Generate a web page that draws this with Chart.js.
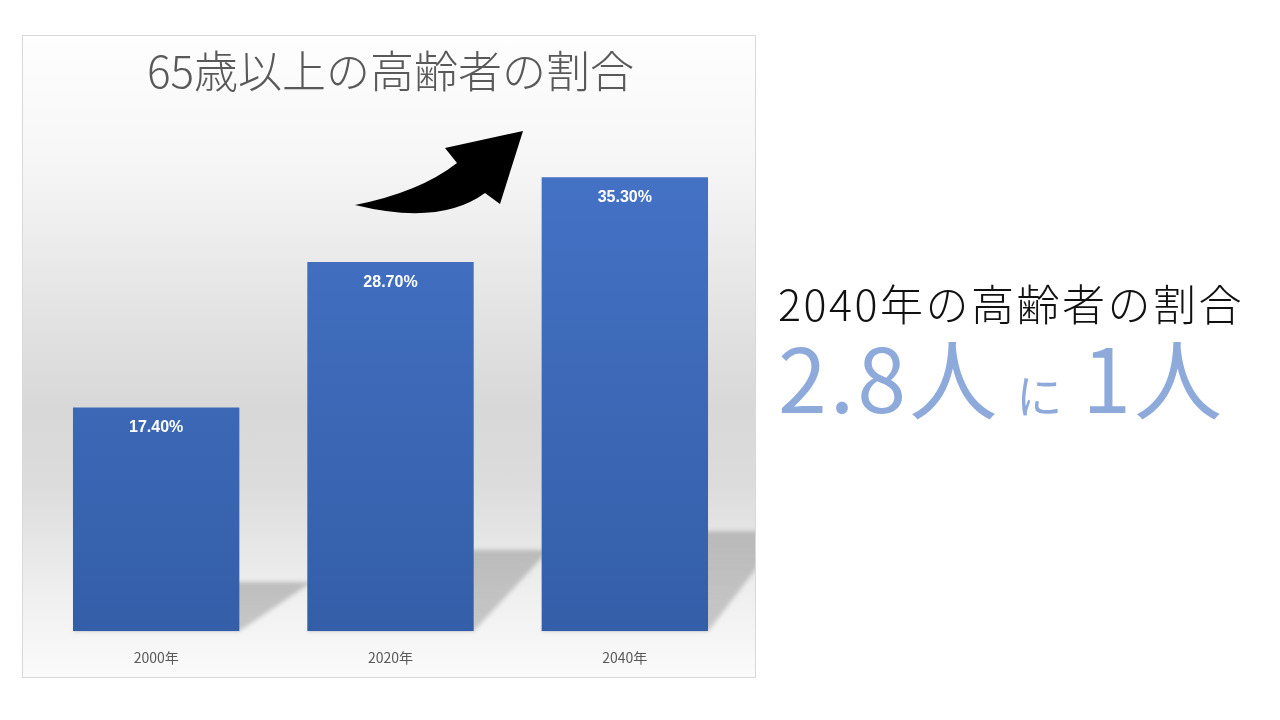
<!DOCTYPE html>
<html>
<head>
<meta charset="utf-8">
<script src="https://cdn.jsdelivr.net/npm/chart.js@4.4.1/dist/chart.umd.min.js"></script>
<style>
  body { margin: 0; width: 1280px; height: 720px; background: #fff; position: relative; overflow: hidden; font-family: "Noto Sans CJK JP", sans-serif; }
  #panel {
    position: absolute; left: 22px; top: 35px; width: 732px; height: 641px;
    border: 1px solid #d9d9d9;
    background: linear-gradient(to bottom, #fefefe 0%, #f6f6f6 20%, #e4e4e4 42%, #d8d8d8 58%, #dcdcdc 70%, #eeeeee 86%, #fbfbfb 100%);
  }
  #arrow { position: absolute; left: 0; top: 0; }
  .side1 { position: absolute; left: 778px; top: 271px; font-size: 43px; color: #111; font-weight: 300; letter-spacing: 2.5px; white-space: nowrap; }
  .side2 { position: absolute; left: 778px; top: 311px; color: #8eaadb; white-space: nowrap; font-weight: 400; }
  .side2 .big { font-size: 88px; letter-spacing: 3px; }
  .side2 .small { font-size: 46px; margin: 0 20px 0 16px; }
</style>
</head>
<body>
<div id="panel"><canvas id="chart" width="732" height="641"></canvas></div>
<svg id="arrow" width="1280" height="720">
  <path d="M 355 205 Q 420 192 457 163 L 445 148 L 523 131 L 500 204 L 485 193 Q 440 226 355 205 Z" fill="#000"/>
</svg>
<div class="side1">2040年の高齢者の割合</div>
<div class="side2"><span class="big">2.8人</span><span class="small">に</span><span class="big">1人</span></div>
<script>
// data
const years = ['2000年', '2020年', '2040年'];
const ratios = [17.4, 28.7, 35.3];

// shadow behind each bar + white value labels
const barDeco = {
  id: 'barDeco',
  beforeDatasetsDraw(chart) {
    const ctx = chart.ctx;
    const bars = chart.getDatasetMeta(0).data;
    ctx.save();
    ctx.beginPath();
    ctx.rect(0, 0, chart.width, chart.height);
    ctx.clip();
    bars.forEach(b => {
      const left = b.x - b.width / 2, right = b.x + b.width / 2;
      const h = b.base - b.y;
      const sh = h * 0.22;
      const dx = 68 + h * 0.02;
      const g = ctx.createLinearGradient(0, b.base - sh, 0, b.base);
      g.addColorStop(0, 'rgba(150,150,150,0.55)');
      g.addColorStop(1, 'rgba(170,170,170,0.6)');
      ctx.fillStyle = g;
      ctx.filter = 'blur(2px)';
      ctx.beginPath();
      ctx.moveTo(left, b.base);
      ctx.lineTo(right, b.base);
      ctx.lineTo(right + dx, b.base - sh);
      ctx.lineTo(left + dx, b.base - sh);
      ctx.closePath();
      ctx.fill();
    });
    ctx.restore();
  },
  afterDatasetsDraw(chart) {
    const ctx = chart.ctx;
    const bars = chart.getDatasetMeta(0).data;
    ctx.save();
    ctx.fillStyle = '#ffffff';
    ctx.font = 'bold 16px "Liberation Sans", Arial, sans-serif';
    ctx.textAlign = 'center';
    ctx.textBaseline = 'middle';
    bars.forEach((b, i) => {
      ctx.fillText(ratios[i].toFixed(2) + '%', b.x, b.y + 20);
    });
    ctx.restore();
  }
};

const ctx = document.getElementById('chart');
const myChart = new Chart(ctx, {
  type: 'bar',
  data: {
    labels: years,
    datasets: [{
      data: ratios,
      backgroundColor: (c) => {
        const area = c.chart.chartArea;
        if (!area) return '#4472c4';
        const g = c.chart.ctx.createLinearGradient(0, area.top, 0, area.bottom);
        g.addColorStop(0, '#4674c8');
        g.addColorStop(1, '#345ea8');
        return g;
      },
      categoryPercentage: 1,
      barPercentage: 0.71
    }]
  },
  options: {
    responsive: false,
    animation: false,
    layout: { padding: { left: 16, right: 13, top: 9, bottom: 1 } },
    plugins: {
      legend: { display: false },
      tooltip: { enabled: false },
      title: {
        display: true,
        text: '65歳以上の高齢者の割合',
        color: '#595959',
        font: { family: '"Noto Sans CJK JP", sans-serif', size: 44, weight: '300' },
        padding: { top: 0, bottom: 19 }
      }
    },
    scales: {
      x: {
        grid: { display: false },
        border: { display: false },
        ticks: { color: '#595959', font: { family: '"Noto Sans CJK JP", sans-serif', size: 14 }, padding: 10 }
      },
      y: {
        display: false,
        min: 0,
        max: 40
      }
    }
  },
  plugins: [barDeco]
});
</script>
</body>
</html>
